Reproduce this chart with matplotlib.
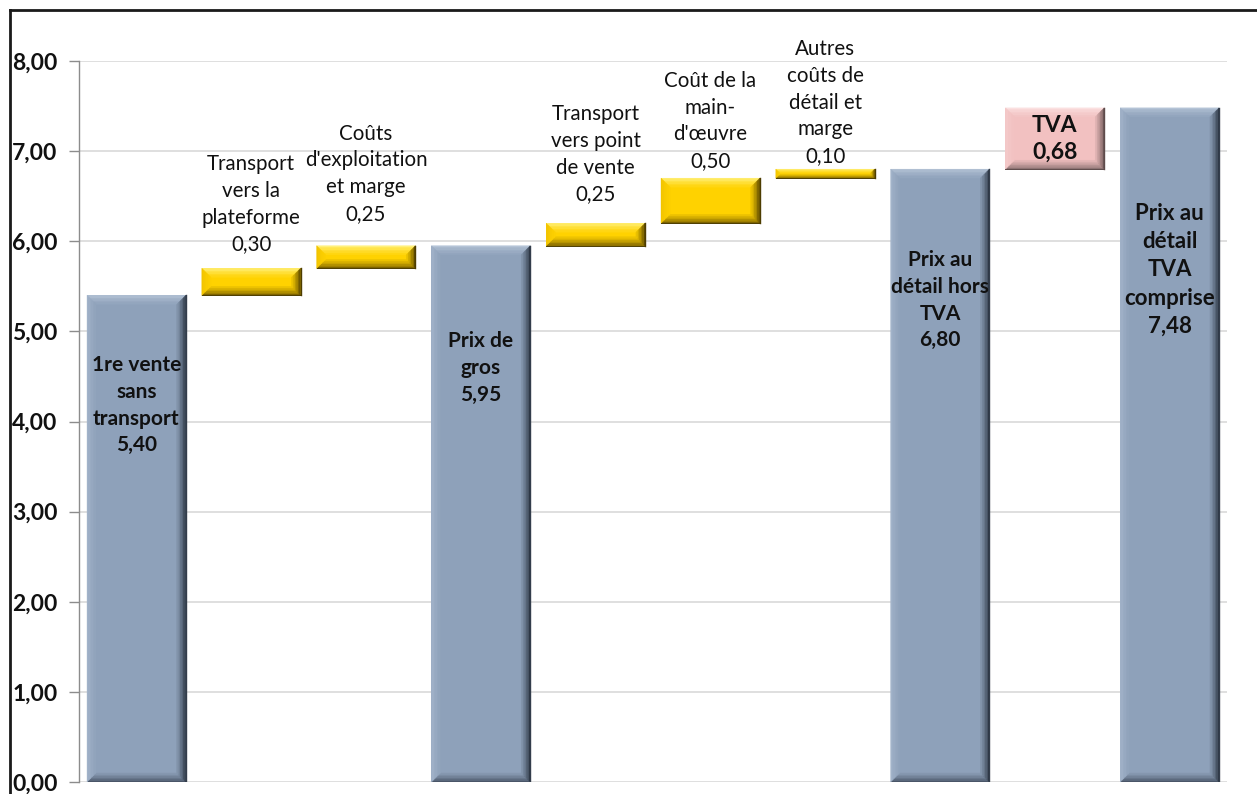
import matplotlib
matplotlib.use("Agg")
import matplotlib.pyplot as plt
from matplotlib.patches import Polygon
from matplotlib.lines import Line2D
from matplotlib.colors import to_rgb

# ---- data ----
labels = [
    "1re vente\nsans\ntransport",
    "Transport\nvers la\nplateforme",
    "Coûts\nd'exploitation\net marge",
    "Prix de\ngros",
    "Transport\nvers point\nde vente",
    "Coût de la\nmain-\nd'œuvre",
    "Autres\ncoûts de\ndétail et\nmarge",
    "Prix au\ndétail hors\nTVA",
    "TVA",
    "Prix au\ndétail\nTVA\ncomprise",
]
values = [5.40, 0.30, 0.25, 5.95, 0.25, 0.50, 0.10, 6.80, 0.68, 7.48]
kinds = ["total", "step", "step", "total", "step", "step", "step", "total", "tax", "total"]
y_ticks = [0, 1, 2, 3, 4, 5, 6, 7, 8]

# ---- layout / style ----
W, H, DPI = 1257, 794, 100
FONT = "Lato"
TXT = "#111111"
styles = {
    "total": dict(base="#8EA1BA", top="#B4C3D6", left="#A3B4CA", right="#2E3845", bottom="#4A5668", edge="#333D4B"),
    "step": dict(base="#FFD200", top="#FFF07A", left="#F2C400", right="#5E4A00", bottom="#7D6300", edge="#4D3D00"),
    "tax": dict(base="#F2C1C1", top="#FBE0E0", left="#F4CACA", right="#6E5858", bottom="#8C7272", edge="#5E4B4B"),
}
step_label_gap_px = [14, 22, 19, 7, 3]        # gap between bar top and label box
total_label_drop_px = [110, 122, 131, 162]    # label centre below bar top
bar_width = 0.86
bevel_px = 9
bevel_steps = 6

fig = plt.figure(figsize=(W / DPI, H / DPI), dpi=DPI)
ax_left, ax_right = 79 / W, 1227 / W
ax_bottom, ax_top = 12 / H, 1 - 61 / H
ax = fig.add_axes([ax_left, ax_bottom, ax_right - ax_left, ax_top - ax_bottom])
ax.set_xlim(-0.5, len(values) - 0.5)
ax.set_ylim(0, 8)

# px -> data conversions
px_x = len(values) / (W * (ax_right - ax_left))
px_y = 8 / (H * (ax_top - ax_bottom))

# waterfall bases
bottoms, tops = [], []
running = 0.0
for v, k in zip(values, kinds):
    if k == "total":
        bottoms.append(0.0)
        tops.append(v)
        running = v
    else:
        bottoms.append(running)
        running = round(running + v, 2)
        tops.append(running)

heights = [t - b for t, b in zip(tops, bottoms)]
xs = list(range(len(values)))
ax.bar(xs, heights, bottom=bottoms, width=bar_width,
       color=[styles[k]["base"] for k in kinds], zorder=2, linewidth=0)


def blend(c1, c2, t):
    a, b = to_rgb(c1), to_rgb(c2)
    return tuple(a[i] + (b[i] - a[i]) * t for i in range(3))


def bevel(x, y0, y1, st):
    x0, x1 = x - bar_width / 2, x + bar_width / 2
    bpx = min(bevel_px, (y1 - y0) / px_y / 2.2)
    n = bevel_steps
    for j in range(n):
        t = j / n
        d0x, d1x = bpx * j / n * px_x, bpx * (j + 1) / n * px_x
        d0y, d1y = bpx * j / n * px_y, bpx * (j + 1) / n * px_y
        sides = [
            ([(x0 + d0x, y1 - d0y), (x1 - d0x, y1 - d0y), (x1 - d1x, y1 - d1y), (x0 + d1x, y1 - d1y)], "top"),
            ([(x0 + d0x, y0 + d0y), (x1 - d0x, y0 + d0y), (x1 - d1x, y0 + d1y), (x0 + d1x, y0 + d1y)], "bottom"),
            ([(x0 + d0x, y0 + d0y), (x0 + d0x, y1 - d0y), (x0 + d1x, y1 - d1y), (x0 + d1x, y0 + d1y)], "left"),
            ([(x1 - d0x, y0 + d0y), (x1 - d0x, y1 - d0y), (x1 - d1x, y1 - d1y), (x1 - d1x, y0 + d1y)], "right"),
        ]
        for pts, side in sides:
            c = blend(st[side], st["base"], t ** 0.8)
            ax.add_patch(Polygon(pts, closed=True, facecolor=c, edgecolor=c,
                                 linewidth=0.3, zorder=3))
    ax.add_line(Line2D([x1, x1], [y0, y1], color=st["edge"], lw=1.0, zorder=4))
    ax.add_line(Line2D([x0, x1], [y0, y0], color=st["edge"], lw=0.7, zorder=4))


for x, b, t, k in zip(xs, bottoms, tops, kinds):
    bevel(x, b, t, styles[k])

# labels
step_i = 0
total_i = 0
for x, b, t, k, lab, v in zip(xs, bottoms, tops, kinds, labels, values):
    val = f"{v:.2f}".replace(".", ",")
    if k == "step":
        ax.text(x, t + step_label_gap_px[step_i] * px_y, f"{lab}\n{val}",
                ha="center", va="bottom", fontsize=14.8, family=FONT,
                color=TXT, linespacing=1.42, zorder=5, clip_on=False)
        step_i += 1
    elif k == "total":
        size = 16 if total_i == 3 else 15
        ax.text(x, t - total_label_drop_px[total_i] * px_y, f"{lab}\n{val}",
                ha="center", va="center", fontsize=size, family=FONT,
                fontweight="bold", color=TXT, linespacing=1.42, zorder=5)
        total_i += 1
    else:
        ax.text(x, (b + t) / 2, f"{lab}\n{val}", ha="center", va="center",
                fontsize=16.5, family=FONT, fontweight="bold", color=TXT,
                linespacing=1.35, zorder=5)

# axes styling
ax.set_yticks(y_ticks)
ax.set_yticklabels([f"{t:.2f}".replace(".", ",") for t in y_ticks],
                   fontsize=16.5, family=FONT, fontweight="bold", color=TXT)
ax.tick_params(axis="y", direction="out", length=7, width=1, color="#8C8C8C", pad=8.5)
ax.set_xticks([])
ax.yaxis.grid(True, color="#D9D9D9", linewidth=1.2, zorder=0)
ax.set_axisbelow(True)
for s in ("top", "right", "bottom"):
    ax.spines[s].set_visible(False)
ax.spines["left"].set_color("#8C8C8C")
ax.spines["left"].set_linewidth(1)

# outer chart frame (top and left edges)
fx, fy = 9.5 / W, 1 - 9.5 / H
fig.add_artist(Line2D([fx, 1.0], [fy, fy], transform=fig.transFigure, color="#1A1A1A", lw=2))
fig.add_artist(Line2D([fx, fx], [0.0, fy], transform=fig.transFigure, color="#1A1A1A", lw=2))

fig.savefig("out.png", dpi=DPI)
